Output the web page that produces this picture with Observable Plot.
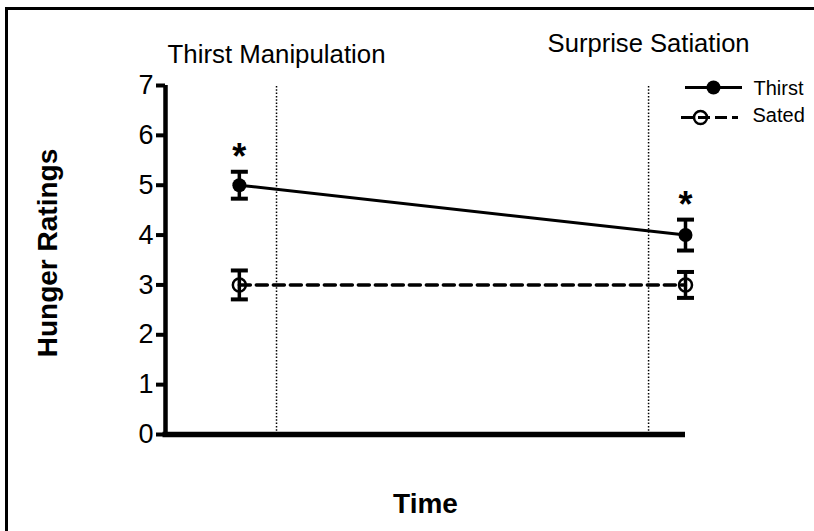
<!DOCTYPE html>
<html><head><meta charset="utf-8">
<script src="https://cdn.jsdelivr.net/npm/d3@7"></script>
<script src="https://cdn.jsdelivr.net/npm/@observablehq/plot@0.6"></script>
<style>
html,body{margin:0;padding:0;background:#fff;overflow:hidden}
#wrap{position:relative;width:814px;height:531px;overflow:hidden}
#wrap svg{position:absolute;left:0;top:0}
#border{position:absolute;left:5px;top:7px;width:1200px;height:900px;border-left:3px solid #000;border-top:3px solid #000;pointer-events:none}
</style></head><body><div id="wrap"><div id="border"></div></div>
<script>
// ---- data ----
const phases = ["Thirst Manipulation", "Surprise Satiation"];
const phaseX = [0.2135, 0.929];      // phase boundaries on the time axis
const timeX = [0.142, 1.0];          // measurement times
const thirstMean = [5, 4];
const thirstSE = [0.27, 0.31];
const satedMean = [3, 3];
const satedSE = [0.29, 0.26];
const significant = [true, true];
const yTicks = [0, 1, 2, 3, 4, 5, 6, 7];
const seriesNames = ["Thirst", "Sated"];

// ---- layout ----
const W = 814, H = 531, mL = 165, mR = 129, mT = 85, mB = 97;
const px = p => (p - mL) / (W - mL - mR);
const py = p => 7 * (H - mB - p) / (H - mB - mT);
const font = "'Liberation Sans', Arial, Helvetica, sans-serif";

const thirst = timeX.map((x, i) => ({x, mean: thirstMean[i], se: thirstSE[i], sig: significant[i]}));
const sated = timeX.map((x, i) => ({x, mean: satedMean[i], se: satedSE[i]}));
const all = [...thirst, ...sated];
const caps = all.flatMap(d => [{x: d.x, y: d.mean - d.se}, {x: d.x, y: d.mean + d.se}]);
const capSymbol = {draw(ctx) { ctx.moveTo(-8.5, 0); ctx.lineTo(8.5, 0); }};

const chart = Plot.plot({
  width: W, height: H,
  marginLeft: mL, marginRight: mR, marginTop: mT, marginBottom: mB,
  style: {fontFamily: font, color: "black", background: "transparent"},
  x: {domain: [0, 1], axis: null},
  y: {domain: [0, 7], axis: null},
  marks: [
    // phase dividers
    Plot.ruleX(phaseX, {y1: 0, y2: 7, stroke: "black", strokeWidth: 1.5, strokeDasharray: "1.5,1.8"}),
    // axes
    Plot.axisY(yTicks, {anchor: "left", tickSize: 9, tickPadding: 3, fontSize: 27, strokeWidth: 4, label: null, tickFormat: d => d}),
    Plot.ruleX([0], {y1: 0, y2: 7, stroke: "black", strokeWidth: 4.5}),
    Plot.ruleY([0], {x1: px(162.5), x2: 1, stroke: "black", strokeWidth: 5.5}),
    // error bars
    Plot.ruleX(all, {x: "x", y1: d => d.mean - d.se, y2: d => d.mean + d.se, stroke: "black", strokeWidth: 3.5}),
    Plot.dot(caps, {x: "x", y: "y", symbol: capSymbol, stroke: "black", strokeWidth: 4, r: 5}),
    // series lines
    Plot.line(thirst, {x: "x", y: "mean", stroke: "black", strokeWidth: 3}),
    Plot.line(sated, {x: "x", y: "mean", stroke: "black", strokeWidth: 3.5, strokeDasharray: "11,6"}),
    // points
    Plot.dot(thirst, {x: "x", y: "mean", r: 7, fill: "black"}),
    Plot.dot(sated, {x: "x", y: "mean", r: 6.5, fill: "none", stroke: "black", strokeWidth: 2.5}),
    // significance stars
    Plot.text(thirst.filter(d => d.sig), {x: "x", y: d => d.mean + d.se, text: () => "*", fontSize: 36, fontWeight: "bold", dy: -14}),
    // phase titles
    Plot.text([phases[0]], {x: () => phaseX[0], frameAnchor: "top", dy: -23, lineAnchor: "bottom", fontSize: 25.8}),
    Plot.text([phases[1]], {x: () => phaseX[1], frameAnchor: "top", dy: -34, lineAnchor: "bottom", fontSize: 25.6}),
    // axis titles
    Plot.text(["Hunger Ratings"], {frameAnchor: "left", rotate: -90, dx: -109, dy: -7, textAnchor: "middle", lineAnchor: "bottom", fontWeight: "bold", fontSize: 28}),
    Plot.text(["Time"], {frameAnchor: "bottom", dy: 78, textAnchor: "middle", lineAnchor: "bottom", fontWeight: "bold", fontSize: 28}),
    // legend
    Plot.ruleY([py(87)], {x1: px(685), x2: px(742), stroke: "black", strokeWidth: 3}),
    Plot.dot([seriesNames[0]], {x: () => px(713), y: () => py(87), r: 7, fill: "black"}),
    Plot.text([seriesNames[0]], {x: () => px(753), y: () => py(94.5), textAnchor: "start", lineAnchor: "bottom", fontSize: 20}),
    Plot.ruleY([py(117)], {x1: px(681), x2: px(738), stroke: "black", strokeWidth: 3, strokeDasharray: "12,5"}),
    Plot.dot([seriesNames[1]], {x: () => px(700), y: () => py(117), r: 6.5, fill: "none", stroke: "black", strokeWidth: 2.5}),
    Plot.text([seriesNames[1]], {x: () => px(752), y: () => py(121), textAnchor: "start", lineAnchor: "bottom", fontSize: 20})
  ]
});
document.getElementById("wrap").insertBefore(chart, document.getElementById("border"));
</script>
</body></html>
